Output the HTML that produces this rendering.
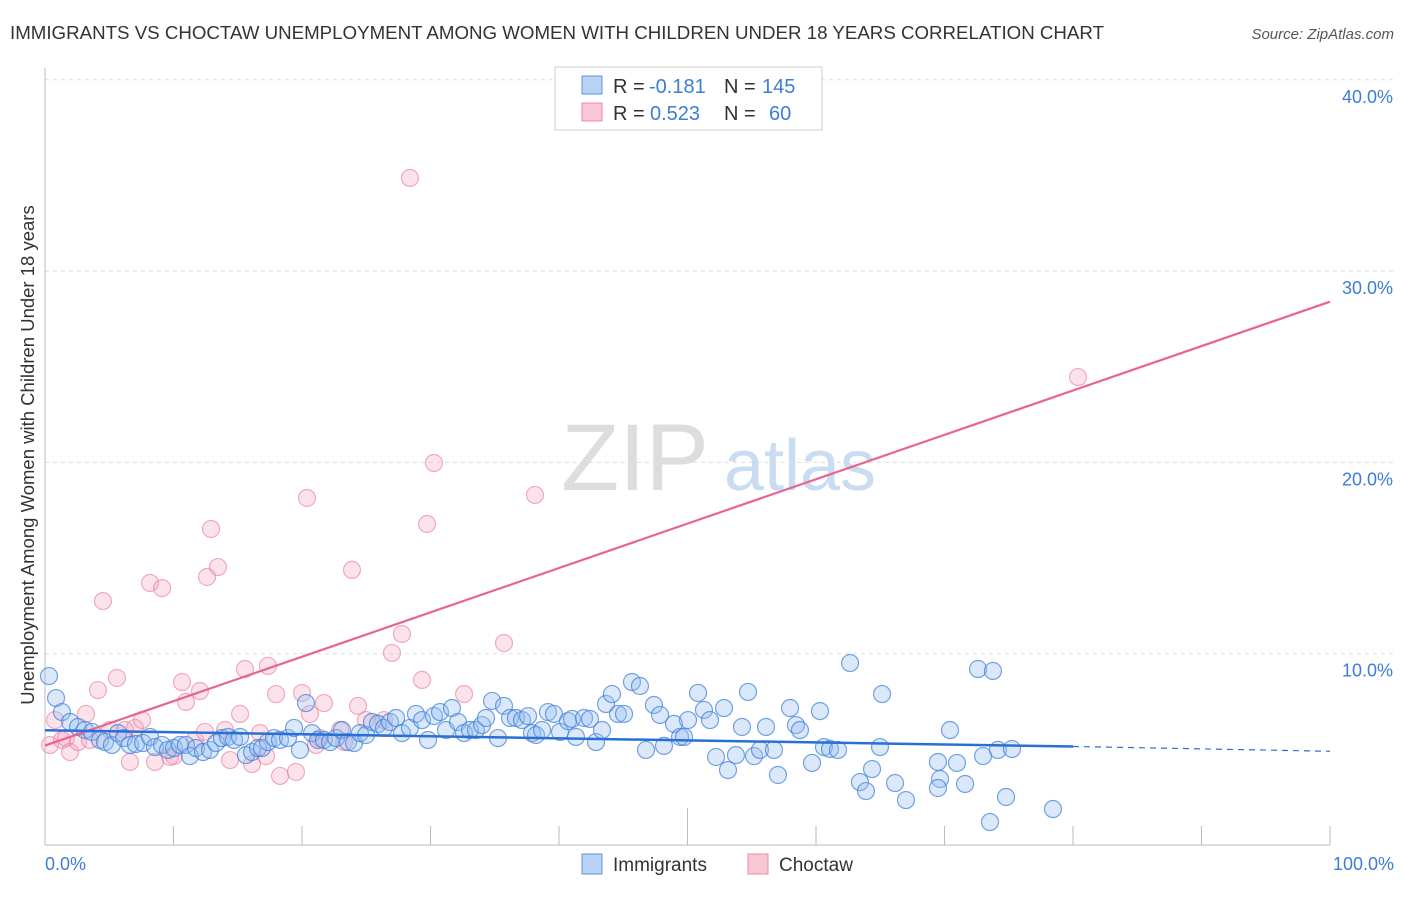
<!DOCTYPE html>
<html><head><meta charset="utf-8"><style>
body{margin:0;background:#fff;font-family:"Liberation Sans",sans-serif}
svg text{font-family:"Liberation Sans",sans-serif}
</style></head><body>
<svg width="1406" height="892">
<text x="10" y="39" font-size="18.5" fill="#333" textLength="1094" lengthAdjust="spacingAndGlyphs">IMMIGRANTS VS CHOCTAW UNEMPLOYMENT AMONG WOMEN WITH CHILDREN UNDER 18 YEARS CORRELATION CHART</text>
<text x="1394" y="39" font-size="15" fill="#555" font-style="italic" text-anchor="end">Source: ZipAtlas.com</text>
<g id="grid"></g>
<g><text x="635" y="490" font-size="95" fill="#ddd" text-anchor="middle" font-family="Liberation Serif">ZIP</text><text x="800" y="490" font-size="72" fill="#c9dcf2" text-anchor="middle">atlas</text></g>
<line x1="45" y1="68" x2="45" y2="845" stroke="#bbb"/>
<line x1="45" y1="845" x2="1330" y2="845" stroke="#bbb"/>
<g id="marks"></g>
<text x="34" y="455" font-size="18.5" fill="#333" text-anchor="middle" transform="rotate(-90 34 455)">Unemployment Among Women with Children Under 18 years</text>
<text x="45" y="870" font-size="18" fill="#3b7dd8">0.0%</text>
<text x="1394" y="870" font-size="18" fill="#3b7dd8" text-anchor="end">100.0%</text>
<g>
<rect x="555" y="67" width="267" height="63" fill="#fff" stroke="#ccc"/>
<rect x="582" y="76" width="20" height="18" fill="#b9d3f5" stroke="#5b93e0"/>
<rect x="582" y="103" width="20" height="18" fill="#f9c6d3" stroke="#ee8aa6"/>
<text x="613" y="93" font-size="20" fill="#333">R =</text>
<text x="649" y="93" font-size="20" fill="#3b7dd8">-0.181</text>
<text x="724" y="93" font-size="20" fill="#333">N =</text>
<text x="762" y="93" font-size="20" fill="#3b7dd8">145</text>
<text x="613" y="120" font-size="20" fill="#333">R =</text>
<text x="650" y="120" font-size="20" fill="#3b7dd8">0.523</text>
<text x="724" y="120" font-size="20" fill="#333">N =</text>
<text x="769" y="120" font-size="20" fill="#3b7dd8">60</text>
</g>
<g><rect x="582" y="854" width="20" height="20" fill="#b9d3f5" stroke="#5b93e0"/><text x="613" y="871" font-size="19" fill="#333">Immigrants</text></g>
<g><rect x="748" y="854" width="20" height="20" fill="#f9c6d3" stroke="#ee8aa6"/><text x="779" y="871" font-size="19" fill="#333">Choctaw</text></g>
</svg>
<script>
const yTicks=[10,20,30,40];
const xTicks=[0,10,20,30,40,50,60,70,80,90,100];
const bluePx=[[49,676],[56,698],[62,712],[70,722],[78,727],[85,730],[92,732],[100,740],[105,742],[112,745],[118,733],[124,738],[130,745],[136,744],[143,743],[150,737],[155,747],[162,745],[168,750],[174,748],[180,745],[186,745],[190,756],[196,748],[203,752],[210,750],[216,743],[222,738],[228,737],[234,740],[240,737],[246,755],[252,752],[258,748],[262,748],[268,742],[274,738],[280,740],[288,738],[294,728],[300,750],[306,703],[312,733],[318,740],[324,740],[330,742],[336,738],[342,730],[348,742],[354,743],[360,733],[366,735],[372,722],[378,724],[384,728],[390,722],[396,718],[402,733],[410,728],[416,714],[422,720],[428,740],[434,716],[440,712],[446,730],[452,708],[458,722],[464,733],[470,730],[476,730],[482,725],[486,718],[492,701],[498,738],[504,706],[510,718],[516,718],[522,720],[528,716],[532,733],[536,735],[542,730],[548,712],[554,714],[560,732],[568,721],[572,719],[576,737],[584,718],[590,719],[596,742],[602,730],[606,704],[612,694],[618,714],[624,714],[632,682],[640,686],[646,750],[654,705],[660,715],[664,746],[674,724],[680,737],[684,737],[688,720],[698,693],[704,710],[710,720],[716,757],[724,708],[728,770],[736,755],[742,727],[748,692],[754,756],[760,750],[766,727],[774,750],[778,775],[790,708],[796,725],[800,730],[812,763],[820,711],[824,747],[830,749],[838,750],[850,663],[860,782],[866,791],[872,769],[880,747],[882,694],[895,783],[906,800],[940,779],[938,762],[938,788],[950,730],[957,763],[965,784],[978,669],[993,671],[983,756],[998,750],[1006,797],[1012,749],[990,822],[1053,809]];
const pinkPx=[[50,745],[55,720],[62,740],[66,738],[70,752],[78,742],[86,714],[90,740],[98,690],[103,601],[110,730],[117,678],[125,730],[130,762],[135,728],[142,720],[150,583],[155,762],[162,588],[170,757],[174,756],[182,682],[186,702],[195,740],[200,691],[205,732],[207,577],[211,529],[218,567],[225,730],[230,760],[240,714],[245,669],[252,764],[260,733],[266,756],[268,666],[276,694],[280,776],[296,772],[302,693],[307,498],[310,714],[316,745],[320,738],[324,703],[340,730],[344,742],[352,570],[358,706],[366,720],[384,720],[392,653],[402,634],[410,178],[422,680],[427,524],[434,463],[464,694],[504,643],[535,495],[1078,377]];
const blueX=bluePx.map(p=>+((p[0]-45)/12.85).toFixed(2));
const blueY=bluePx.map(p=>+((845-p[1])/19.13).toFixed(2));
const pinkX=pinkPx.map(p=>+((p[0]-45)/12.85).toFixed(2));
const pinkY=pinkPx.map(p=>+((845-p[1])/19.13).toFixed(2));
const blueTrend=[6.0,5.15,4.9];
const pinkTrend=[5.2,28.4];
const sx=v=>45+v*12.85, sy=v=>845-v*19.13;
const NS='http://www.w3.org/2000/svg';
function mk(t,a,parent){const e=document.createElementNS(NS,t);for(const k in a)e.setAttribute(k,a[k]);parent.appendChild(e);return e;}
const grid=document.getElementById('grid'),marks=document.getElementById('marks');
yTicks.forEach(v=>{
 const l=mk('line',{x1:45,x2:1394,y1:sy(v),y2:sy(v),stroke:'#ddd','stroke-dasharray':'4,4'},grid);
 
 
 const t=mk('text',{x:1393,y:sy(v)+23,'font-size':18,fill:'#3b7dd8','text-anchor':'end'},grid);
 t.textContent=v.toFixed(1)+'%';
 
 
});
xTicks.forEach((v,i)=>{
 const l=mk('line',{x1:sx(v),x2:sx(v),y1:(i==5?808:826),y2:845,stroke:'#bbb'},grid);
 
 
});
pinkX.forEach((x,i)=>{
 const c=mk('circle',{cx:sx(x),cy:sy(pinkY[i]),r:8.5,fill:'rgba(244,160,185,0.3)',stroke:'rgba(232,130,160,0.65)','stroke-width':1.2},marks);
 
 
});
blueX.forEach((x,i)=>{
 const c=mk('circle',{cx:sx(x),cy:sy(blueY[i]),r:8.5,fill:'rgba(150,190,240,0.35)',stroke:'rgba(60,125,215,0.7)','stroke-width':1.2},marks);
 
 
});
let l=mk('line',{x1:sx(0),y1:sy(pinkTrend[0]),x2:sx(100),y2:sy(pinkTrend[1]),stroke:'#e8648f','stroke-width':2.2},marks);


l=mk('line',{x1:sx(0),y1:sy(blueTrend[0]),x2:sx(80),y2:sy(blueTrend[1]),stroke:'#2a6fd6','stroke-width':2.5},marks);


l=mk('line',{x1:sx(80),y1:sy(blueTrend[1]),x2:sx(100),y2:sy(blueTrend[2]),stroke:'#2a6fd6','stroke-width':1.2,'stroke-dasharray':'6,5'},marks);


</script>
</body></html>
